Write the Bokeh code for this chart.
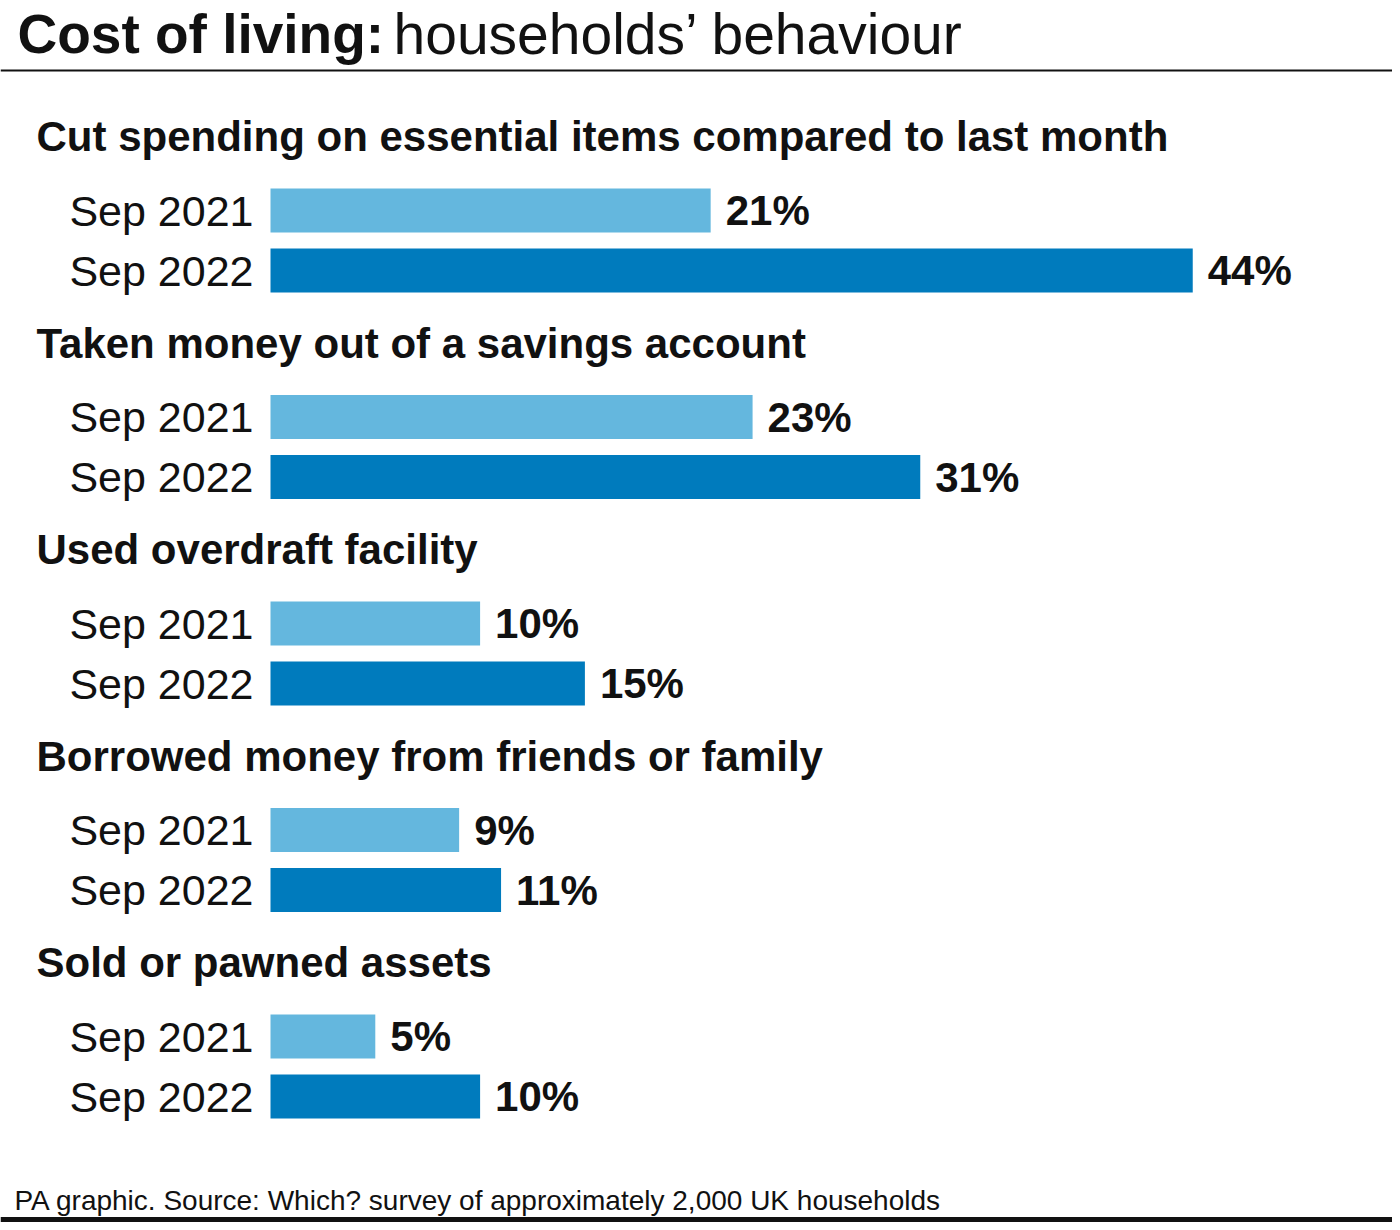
from bokeh.plotting import figure
from bokeh.models import Range1d, Span, ColumnDataSource
from bokeh.core.properties import value
from bokeh.embed import file_html
from bokeh.resources import INLINE

# ---- data ----
categories = [
    "Cut spending on essential items compared to last month",
    "Taken money out of a savings account",
    "Used overdraft facility",
    "Borrowed money from friends or family",
    "Sold or pawned assets",
]
periods = ["Sep 2021", "Sep 2022"]
sep_2021 = [21, 23, 10, 9, 5]
sep_2022 = [44, 31, 15, 11, 10]
title_bold = "Cost of living:"
title_rest = "households\u2019 behaviour"
footer = "PA graphic. Source: Which? survey of approximately 2,000 UK households"

# ---- layout ----
W, H = 1392, 1222
PX_PER_UNIT = 20.96
ORIGIN_PX = 270
x0 = -ORIGIN_PX / PX_PER_UNIT
x1 = (W - ORIGIN_PX) / PX_PER_UNIT


def px(xp):
    return x0 + xp / PX_PER_UNIT


FONT = "Liberation Sans"
LIGHT = "#64b7de"
DARK = "#007bbd"
INK = "#111111"

p = figure(width=W, height=H, x_range=Range1d(x0, x1), y_range=Range1d(H, 0),
           output_backend="svg", toolbar_location=None, min_border=0)
p.axis.visible = False
p.grid.visible = False
p.outline_line_color = None
p.background_fill_color = "white"
p.border_fill_color = "white"

pitch = 206.5
first_bar = 210
bar_gap = 60
bar_h = 44

y21 = [first_bar + i * pitch for i in range(len(categories))]
y22 = [y + bar_gap for y in y21]
yhead = [y - 74 for y in y21]

src21 = ColumnDataSource(dict(y=y21, v=sep_2021, lab=[f"{v}%" for v in sep_2021],
                              per=[periods[0]] * len(categories)))
src22 = ColumnDataSource(dict(y=y22, v=sep_2022, lab=[f"{v}%" for v in sep_2022],
                              per=[periods[1]] * len(categories)))

for src, col in ((src21, LIGHT), (src22, DARK)):
    p.hbar(y="y", left=0, right="v", height=bar_h, source=src, color=col, line_color=None)
    p.text(x="v", y="y", text="lab", source=src, x_offset=15, text_baseline="middle",
           text_align="left", text_font=value(FONT), text_font_style="bold",
           text_font_size="42px", text_color=INK)
    p.text(x=px(253), y="y", text="per", source=src, text_baseline="middle",
           text_align="right", text_font=value(FONT), text_font_size="43px",
           text_color=INK)

p.text(x=[px(36)] * len(categories), y=yhead, text=categories, text_baseline="middle",
       text_align="left", text_font=value(FONT), text_font_style="bold",
       text_font_size="42px", text_color=INK)

# title
p.text(x=[px(17)], y=[33], text=[title_bold], text_baseline="middle", text_align="left",
       text_font=value(FONT), text_font_style="bold", text_font_size="55px", text_color=INK)
p.text(x=[px(393)], y=[33], text=[title_rest], text_baseline="middle", text_align="left",
       text_font=value(FONT), text_font_size="57px", text_color=INK)
p.add_layout(Span(location=70, dimension="width", line_color=INK, line_width=2))

# footer
p.text(x=[px(14)], y=[1200], text=[footer], text_baseline="middle", text_align="left",
       text_font=value(FONT), text_font_size="28px", text_color=INK)
p.add_layout(Span(location=1219, dimension="width", line_color=INK, line_width=5))

open("out.html", "w").write(file_html(p, INLINE))
